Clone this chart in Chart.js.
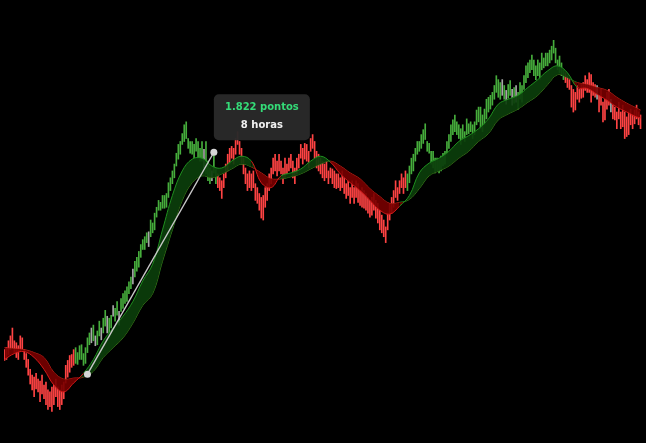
<!DOCTYPE html>
<html lang="pt">
<head>
<meta charset="utf-8">
<title>Medição - gráfico</title>
<script src="https://cdn.jsdelivr.net/npm/chart.js@4.4.1/dist/chart.umd.min.js"></script>
<style>
  html, body { margin: 0; padding: 0; background: #000; overflow: hidden; }
  #wrap { width: 646px; height: 443px; position: relative; }
</style>
</head>
<body>
<div id="wrap"><canvas id="graph"></canvas></div>
<script>
  // barras (máxima / mínima), uma por período
  const highs = [
    91,93,100,105,113,100,98,95,105,103,
    91,87,81,71,65,63,67,61,59,65,
    55,58,50,48,53,55,61,53,50,55,
    58,75,80,85,86,91,93,88,95,96,
    87,93,103,108,113,116,105,110,120,113,
    123,131,125,123,126,136,133,140,130,143,
    148,151,155,160,165,173,181,185,191,198,
    203,206,210,211,223,220,230,236,243,241,
    248,248,250,261,266,273,280,291,300,303,
    311,320,323,306,303,303,300,306,303,296,
    303,295,303,283,276,273,293,276,270,266,
    263,270,280,290,296,298,296,306,313,303,
    296,286,276,270,273,270,273,260,256,250,
    246,248,256,260,270,276,286,290,283,290,
    283,276,286,280,286,290,283,276,286,290,
    300,296,301,300,293,306,310,303,293,290,
    286,283,280,283,273,276,275,273,270,270,
    266,273,266,260,263,256,263,256,263,260,
    253,256,253,250,246,243,246,250,243,240,
    233,228,223,216,230,240,246,253,263,256,
    263,270,266,273,270,278,286,290,296,303,
    303,310,315,321,303,301,293,293,286,286,
    285,288,291,293,303,310,320,325,330,323,
    320,316,320,313,326,321,323,320,323,335,
    338,338,330,336,346,348,350,353,360,370,
    366,363,366,360,355,361,365,356,358,360,
    353,363,360,370,380,383,386,391,386,380,
    386,383,393,388,393,393,396,400,406,398,
    386,390,383,376,373,370,366,360,356,353,
    360,356,361,363,370,366,373,371,363,361,
    360,350,356,343,346,353,356,346,340,338,
    333,343,333,340,333,328,333,336,330,335,
    340,333,330
  ];
  const lows = [
    80,81,86,91,93,88,83,81,90,91,
    81,73,65,56,50,43,51,48,38,46,
    41,35,30,33,28,35,43,33,30,35,
    41,57,63,68,73,75,77,76,81,81,
    75,77,88,96,98,100,95,96,105,101,
    108,115,108,108,113,125,120,126,116,130,
    133,138,140,148,153,158,165,171,175,185,
    193,193,200,196,206,210,213,226,233,233,
    235,235,236,246,253,260,266,278,285,290,
    300,303,306,296,291,290,286,293,286,283,
    283,276,270,263,260,263,271,260,256,253,
    245,256,266,273,280,286,280,290,300,290,
    280,270,260,253,256,253,256,243,240,233,
    225,223,236,243,253,260,270,273,268,273,
    270,260,266,270,273,276,266,260,270,276,
    286,280,285,283,276,293,296,286,276,273,
    270,266,263,266,260,266,260,256,255,256,
    253,256,250,245,248,240,246,240,246,241,
    238,236,235,233,230,226,228,233,225,220,
    213,210,206,200,213,223,230,236,246,243,
    250,256,250,256,253,261,270,273,283,290,
    293,296,301,305,293,291,280,276,271,273,
    271,273,278,280,290,296,303,310,313,310,
    306,300,306,303,310,311,313,306,310,320,
    323,316,313,320,326,333,336,340,346,353,
    348,346,350,346,341,347,350,340,342,343,
    336,346,343,356,363,368,373,376,370,366,
    370,366,376,378,380,380,383,386,393,383,
    376,373,370,366,363,358,356,338,333,335,
    346,343,347,348,355,353,353,343,350,348,
    346,333,340,323,325,336,340,333,326,325,
    316,326,316,318,306,308,310,320,316,321,
    326,320,316
  ];
  // cor de cada barra: g = alta, r = baixa, w = neutra
  const barKinds = [
    'rrrrrrrrrr','rrrrrrrrrr','rrrrrrrrrr','rrrrrrgggg','ggggwgwggw',
    'ggwggwggwg','gggggwgggg','gggwgggggg','gggggggggg','gggggggggg',
    'gwgggwggrr','rrrrrrrrrr','rrrrrrrrrr','rrrrrrrrrr','rrrrrrrrrr',
    'rrrrrrrrrr','rrrrrrrrrr','rrrrrrrrrr','rrrrrrrrrr','rrrrrrrrrr',
    'rrrrgggggg','gggggggggg','gggggggggg','gggggggggg','gggggggggg',
    'ggwgwggwgw','gggggggggg','gggggggggg','ggggrrrrrr','rrrrrrrrrr',
    'wrrrrrrwrr','rrrrrrrrrr','rrr'
  ].join('');

  // médias móveis (rápida / lenta), amostradas a cada 5 períodos
  const maIdx = [0,5,10,15,20,25,30,35,40,45,50,55,60,65,70,75,80,85,90,95,
    100,105,110,115,120,125,130,135,140,145,150,155,160,165,170,175,180,185,190,195,
    200,205,210,215,220,225,230,235,240,245,250,255,260,265,270,275,280,285,290,295,
    300,305,310,315,320,322];
  const maFast = [81,87,89,83,71,55,48,57,67,81,100,113,125,140,161,178,213,248,273,285,
    286,278,276,283,288,283,261,256,268,271,275,283,288,282,270,261,253,243,233,229,
    237,248,271,281,286,293,303,309,316,326,341,346,350,358,366,375,380,373,358,357,
    351,345,338,333,328,327];
  const maSlow = [93,92,91,88,83,68,61,62,63,69,83,93,103,118,136,148,181,213,243,261,
    268,266,270,275,280,277,271,265,265,267,270,275,280,283,278,271,265,255,247,240,
    241,244,255,268,273,278,286,293,303,311,325,331,336,343,350,361,371,368,363,361,
    358,355,348,342,337,335];

  // régua de medição
  const measureIdx = [42, 106];
  const measureVal = [66, 292];
  const infoLines = ['1.822 pontos', '8 horas'];

  const kindColor = { g: '#46ad3c', r: '#ff4343', w: '#a8a8a8' };
  const upLine = '#1f8f1f', downLine = '#d41818';
  const upFill = 'rgba(11,62,11,0.92)', downFill = 'rgba(120,0,0,0.9)';

  const bars = highs.map((h, i) => ({ x: i, y: [lows[i], h] }));
  const fastPts = maIdx.map((x, k) => ({ x: x, y: maFast[k] }));
  const slowPts = maIdx.map((x, k) => ({ x: x, y: maSlow[k] }));
  const measurePts = measureIdx.map((x, k) => ({ x: x, y: measureVal[k] }));

  function trendColor(ctx) {
    const a = ctx.p0DataIndex, b = ctx.p1DataIndex;
    return (maFast[a] + maFast[b]) >= (maSlow[a] + maSlow[b]) ? upLine : downLine;
  }

  const infoBox = {
    id: 'infoBox',
    afterDatasetsDraw(chart) {
      const pt = chart.getDatasetMeta(3).data[1];
      const c = chart.ctx;
      const w = 96, h = 46;
      const left = pt.x, top = pt.y - 12 - h;
      c.save();
      c.fillStyle = 'rgba(42,42,42,0.96)';
      c.beginPath();
      c.roundRect(left, top, w, h, 5);
      c.fill();
      c.font = 'bold 10px "DejaVu Sans"';
      c.textAlign = 'center';
      c.textBaseline = 'middle';
      c.fillStyle = '#34dc78';
      c.fillText(infoLines[0], left + w / 2, top + 13.5);
      c.fillStyle = '#f2f2f2';
      c.fillText(infoLines[1], left + w / 2, top + 31.5);
      c.restore();
    }
  };

  new Chart(document.getElementById('graph'), {
    data: {
      datasets: [
        {
          type: 'line', data: fastPts, order: 2,
          borderWidth: 1, pointRadius: 0, tension: 0.4,
          borderColor: upLine,
          segment: { borderColor: trendColor },
          fill: { target: '+1', above: upFill, below: downFill }
        },
        {
          type: 'line', data: slowPts, order: 2,
          borderWidth: 1, pointRadius: 0, tension: 0.4,
          borderColor: upLine,
          segment: { borderColor: trendColor },
          fill: false
        },
        {
          type: 'bar', data: bars, order: 3,
          backgroundColor: bars.map((b, i) => kindColor[barKinds[i]] || kindColor.r),
          barThickness: 1, grouped: false, borderWidth: 0
        },
        {
          type: 'line', data: measurePts, order: 1,
          borderColor: '#c9c9c9', borderWidth: 1.4,
          pointRadius: 3.5, pointBackgroundColor: '#d6d6d6', pointBorderWidth: 0,
          fill: false
        }
      ]
    },
    options: {
      responsive: true,
      maintainAspectRatio: false,
      animation: false,
      events: [],
      layout: { padding: 0 },
      plugins: { legend: { display: false }, tooltip: { enabled: false } },
      scales: {
        x: { type: 'linear', min: -0.25, max: 322.75, offset: false, display: false },
        y: { min: 0, max: 443, display: false }
      }
    },
    plugins: [infoBox]
  });
</script>
</body>
</html>
